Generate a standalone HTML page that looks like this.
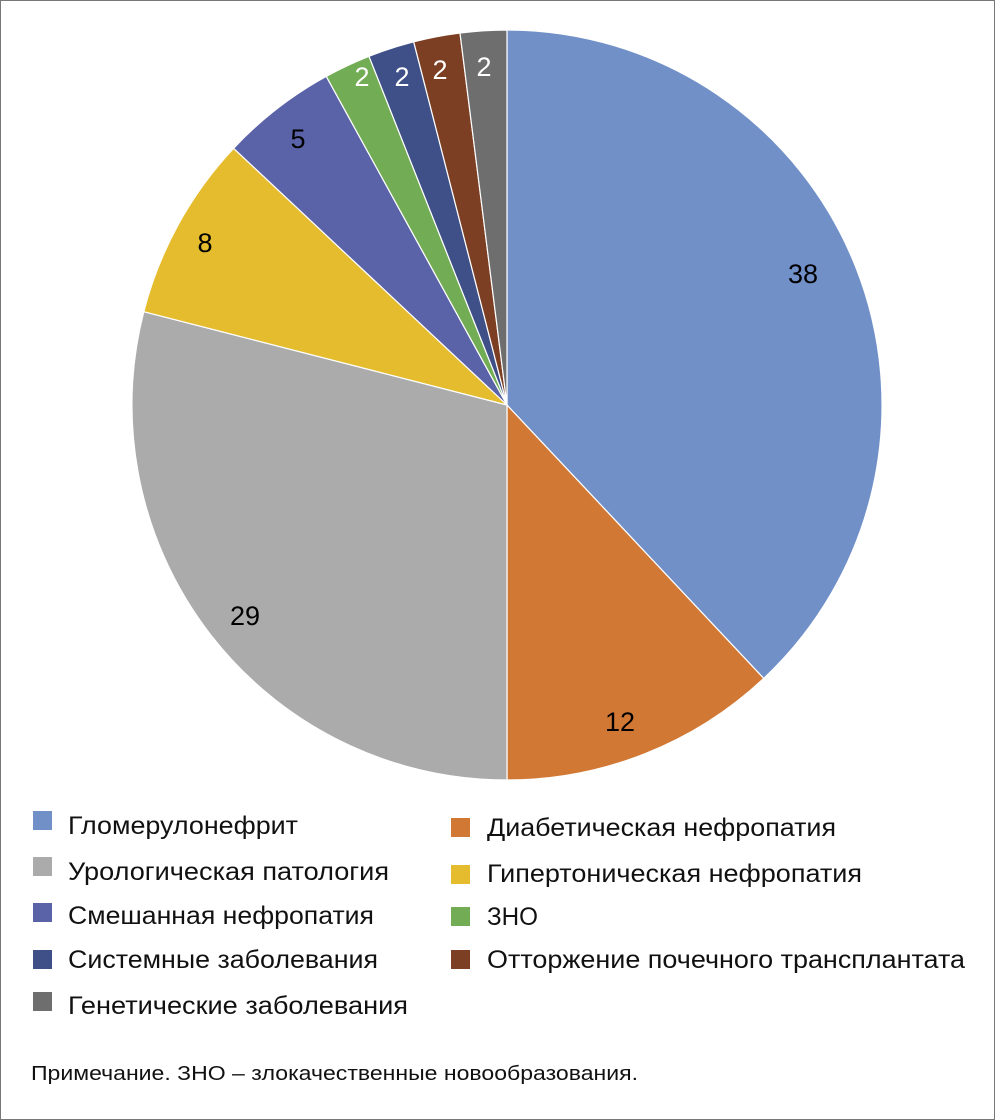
<!DOCTYPE html>
<html><head><meta charset="utf-8"><style>
html,body{margin:0;padding:0;background:#fff}
body{width:995px;height:1120px;position:relative;overflow:hidden;font-family:"Liberation Sans",sans-serif}
.f{position:absolute;left:0;top:0;width:993px;height:1118px;border:1px solid #777;}
</style></head><body>
<div class="f"></div>
<svg width="995" height="1120" style="position:absolute;left:0;top:0" font-family="Liberation Sans, sans-serif">
<g stroke="#fff" stroke-width="1.2">
<path d="M507,405 L507,30 A375,375 0 0 1 763.7,678.4 Z" fill="#7190C8"/>
<path d="M507,405 L763.7,678.4 A375,375 0 0 1 507,780 Z" fill="#D27835"/>
<path d="M507,405 L507,780 A375,375 0 0 1 143.8,311.7 Z" fill="#ABABAB"/>
<path d="M507,405 L143.8,311.7 A375,375 0 0 1 233.6,148.3 Z" fill="#E5BC2E"/>
<path d="M507,405 L233.6,148.3 A375,375 0 0 1 326.3,76.4 Z" fill="#5A62A8"/>
<path d="M507,405 L326.3,76.4 A375,375 0 0 1 369.0,56.3 Z" fill="#72AD55"/>
<path d="M507,405 L369.0,56.3 A375,375 0 0 1 413.7,41.8 Z" fill="#3E5087"/>
<path d="M507,405 L413.7,41.8 A375,375 0 0 1 460.0,33.0 Z" fill="#7D3F23"/>
<path d="M507,405 L460.0,33.0 A375,375 0 0 1 507,30 Z" fill="#6E6E6E"/>
</g>
<g font-size="27" text-anchor="middle">
<text x="803" y="283">38</text>
<text x="620" y="731">12</text>
<text x="245" y="625">29</text>
<text x="205" y="252">8</text>
<text x="298" y="148">5</text>
<text x="362" y="86" fill="#fff">2</text>
<text x="402" y="86" fill="#fff">2</text>
<text x="440" y="79" fill="#fff">2</text>
<text x="484" y="76" fill="#fff">2</text>
</g>
<g font-size="25" fill="#111" lengthAdjust="spacingAndGlyphs">
<rect x="33" y="811" width="19" height="19" fill="#7190C8"/><text x="68" y="834" textLength="230" lengthAdjust="spacingAndGlyphs">Гломерулонефрит</text>
<rect x="33" y="857" width="19" height="19" fill="#ABABAB"/><text x="68" y="880" textLength="321" lengthAdjust="spacingAndGlyphs">Урологическая патология</text>
<rect x="33" y="903" width="19" height="19" fill="#5A62A8"/><text x="68" y="924" textLength="306" lengthAdjust="spacingAndGlyphs">Смешанная нефропатия</text>
<rect x="33" y="950" width="19" height="19" fill="#3E5087"/><text x="68" y="968" textLength="310" lengthAdjust="spacingAndGlyphs">Системные заболевания</text>
<rect x="33" y="992" width="19" height="19" fill="#6E6E6E"/><text x="68" y="1014" textLength="340" lengthAdjust="spacingAndGlyphs">Генетические заболевания</text>
<rect x="451" y="818" width="19" height="19" fill="#D27835"/><text x="487" y="836" textLength="349" lengthAdjust="spacingAndGlyphs">Диабетическая нефропатия</text>
<rect x="451" y="865" width="19" height="19" fill="#E5BC2E"/><text x="487" y="882" textLength="375" lengthAdjust="spacingAndGlyphs">Гипертоническая нефропатия</text>
<rect x="451" y="907" width="19" height="19" fill="#72AD55"/><text x="487" y="925" textLength="51" lengthAdjust="spacingAndGlyphs">ЗНО</text>
<rect x="451" y="950" width="19" height="19" fill="#7D3F23"/><text x="487" y="968" textLength="478" lengthAdjust="spacingAndGlyphs">Отторжение почечного трансплантата</text>
</g>
<text x="31" y="1080" font-size="20" fill="#111" textLength="607" lengthAdjust="spacingAndGlyphs">Примечание. ЗНО – злокачественные новообразования.</text>
</svg>
</body></html>
